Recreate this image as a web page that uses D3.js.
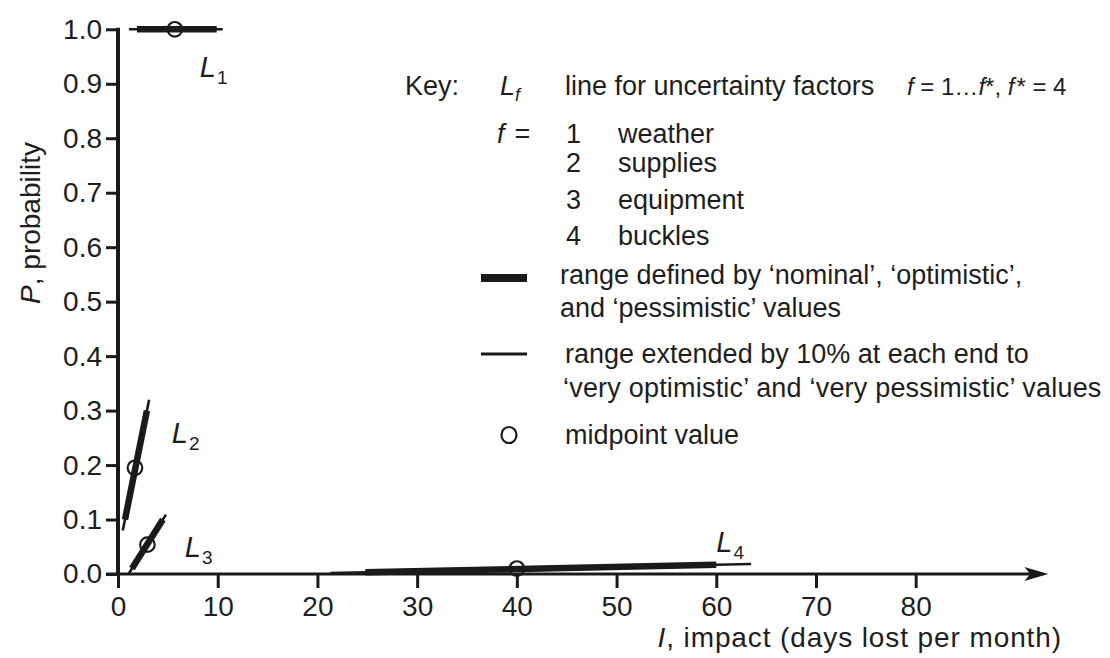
<!DOCTYPE html>
<html>
<head>
<meta charset="utf-8">
<script src="https://cdn.jsdelivr.net/npm/d3@7"></script>
<style>
  html, body { margin: 0; padding: 0; background: #fff; }
  svg { display: block; font-family: "Liberation Sans", Arial, Helvetica, sans-serif; }
  text { fill: #1e1e1e; }
</style>
</head>
<body>
<svg id="chart" width="1110" height="658"></svg>
<script>
// Uncertainty factors f = 1..4
const factors = ["1", "2", "3", "4"];
const factorNames = ["weather", "supplies", "equipment", "buckles"];

// Range from 'optimistic' to 'pessimistic' values (impact I, probability P)
const nomI0 = [1.9, 0.7, 1.4, 24.8];
const nomP0 = [1.0, 0.10, 0.01, 0.003];
const nomI1 = [9.9, 2.9, 4.5, 60.0];
const nomP1 = [1.0, 0.30, 0.10, 0.017];

// Range extended by 10% at each end ('very optimistic' / 'very pessimistic')
const extI0 = [1.1, 0.48, 1.09, 21.3];
const extP0 = [1.0, 0.08, 0.001, 0.0016];
const extI1 = [10.5, 3.12, 4.81, 63.5];
const extP1 = [1.0, 0.32, 0.109, 0.0184];

// Midpoint values
const midI = [5.7, 1.7, 2.95, 40.0];
const midP = [1.0, 0.195, 0.054, 0.01];

// Line label anchors, in data units
const labelI = [8.2, 5.4, 6.7, 60.0];
const labelP = [0.913, 0.240, 0.031, 0.041];

// Axis ticks
const xTicks = [0, 10, 20, 30, 40, 50, 60, 70, 80];
const yTicks = [0, 0.1, 0.2, 0.3, 0.4, 0.5, 0.6, 0.7, 0.8, 0.9, 1.0];
const xAxisEnd = 93.3;

const ink = "#1a1a1a";
const svg = d3.select("#chart");

const x = d3.scaleLinear().domain([0, 80]).range([118, 915.7]);
const y = d3.scaleLinear().domain([0, 1]).range([574, 29.3]);

// ---- axes ----
const yAxis = d3.axisLeft(y).tickValues(yTicks).tickFormat(d3.format(".1f"))
  .tickSize(12).tickPadding(4);
const gy = svg.append("g").attr("transform", `translate(${x(0)},0)`).call(yAxis);
gy.select(".domain").remove();
gy.selectAll(".tick line").attr("stroke", ink).attr("stroke-width", 3);
gy.selectAll(".tick text").attr("font-size", 28).attr("fill", "#1e1e1e")
  .attr("font-family", "Liberation Sans, Arial, sans-serif");

const xAxis = d3.axisBottom(x).tickValues(xTicks).tickFormat(d3.format("d"))
  .tickSize(14).tickPadding(8);
const gx = svg.append("g").attr("transform", `translate(0,${y(0)})`).call(xAxis);
gx.select(".domain").remove();
gx.selectAll(".tick line").attr("stroke", ink).attr("stroke-width", 3);
gx.selectAll(".tick text").attr("font-size", 28).attr("fill", "#1e1e1e")
  .attr("font-family", "Liberation Sans, Arial, sans-serif");

// y axis spine
svg.append("line")
  .attr("x1", x(0)).attr("x2", x(0))
  .attr("y1", y(1) - 1.5).attr("y2", y(0))
  .attr("stroke", ink).attr("stroke-width", 4);

// x axis spine with arrow head
const tipX = x(xAxisEnd), y0 = y(0);
svg.append("line")
  .attr("x1", x(0) - 12).attr("x2", tipX - 10)
  .attr("y1", y0).attr("y2", y0)
  .attr("stroke", ink).attr("stroke-width", 3);
svg.append("path")
  .attr("d", `M${tipX},${y0} L${tipX - 24},${y0 - 7} L${tipX - 18},${y0} L${tipX - 24},${y0 + 7} Z`)
  .attr("fill", ink);

// ---- uncertainty lines ----
const idx = d3.range(factors.length);
const plot = svg.append("g");

plot.selectAll("line.ext").data(idx).join("line")
  .attr("class", "ext")
  .attr("x1", i => x(extI0[i])).attr("y1", i => y(extP0[i]))
  .attr("x2", i => x(extI1[i])).attr("y2", i => y(extP1[i]))
  .attr("stroke", ink).attr("stroke-width", 2.6);

plot.selectAll("line.nom").data(idx).join("line")
  .attr("class", "nom")
  .attr("x1", i => x(nomI0[i])).attr("y1", i => y(nomP0[i]))
  .attr("x2", i => x(nomI1[i])).attr("y2", i => y(nomP1[i]))
  .attr("stroke", ink).attr("stroke-width", 6.5);

plot.selectAll("circle.mid").data(idx).join("circle")
  .attr("class", "mid")
  .attr("cx", i => x(midI[i])).attr("cy", i => y(midP[i]))
  .attr("r", 7.3)
  .attr("fill", "none").attr("stroke", ink).attr("stroke-width", 2.2);

// line labels L1..L4
const lab = plot.selectAll("text.lab").data(idx).join("text")
  .attr("class", "lab")
  .attr("x", i => x(labelI[i])).attr("y", i => y(labelP[i]))
  .attr("font-size", 29);
lab.append("tspan").attr("font-style", "italic").text("L");
lab.append("tspan").attr("font-size", 19).attr("dy", 7).attr("dx", 1).text(i => factors[i]);

// ---- axis titles ----
const yt = svg.append("text")
  .attr("transform", "translate(40,223) rotate(-90)")
  .attr("text-anchor", "middle").attr("font-size", 28);
yt.append("tspan").attr("font-style", "italic").text("P");
yt.append("tspan").text(", probability");

const xt = svg.append("text")
  .attr("x", 1062).attr("y", 647)
  .attr("text-anchor", "end").attr("font-size", 28)
  .attr("letter-spacing", 0.9);
xt.append("tspan").attr("font-style", "italic").text("I");
xt.append("tspan").text(", impact (days lost per month)");

// ---- key ----
const key = svg.append("g").attr("font-size", 27);
key.append("text").attr("x", 405).attr("y", 95).text("Key:");
const lf = key.append("text").attr("x", 500).attr("y", 95);
lf.append("tspan").attr("font-style", "italic").text("L");
lf.append("tspan").attr("font-style", "italic").attr("font-size", 18).attr("dy", 6).text("f");
key.append("text").attr("x", 565).attr("y", 95).text("line for uncertainty factors");
const fs = key.append("text").attr("x", 907).attr("y", 95).attr("font-size", 24);
fs.append("tspan").attr("font-style", "italic").text("f");
fs.append("tspan").text(" = 1…");
fs.append("tspan").attr("font-style", "italic").text("f");
fs.append("tspan").text("*, ");
fs.append("tspan").attr("font-style", "italic").text("f");
fs.append("tspan").attr("dx", 2).text("* = 4");

const feq = key.append("text").attr("x", 497).attr("y", 143);
feq.append("tspan").attr("font-style", "italic").text("f");
feq.append("tspan").attr("dx", 10).text("=");

const rowY = [143, 172, 209, 245];
key.selectAll("text.num").data(idx).join("text")
  .attr("class", "num").attr("x", 566).attr("y", i => rowY[i]).text(i => factors[i]);
key.selectAll("text.name").data(idx).join("text")
  .attr("class", "name").attr("x", 618).attr("y", i => rowY[i]).text(i => factorNames[i]);

// legend symbols
key.append("line").attr("x1", 481).attr("x2", 527).attr("y1", 278).attr("y2", 278)
  .attr("stroke", ink).attr("stroke-width", 8);
key.append("line").attr("x1", 481).attr("x2", 527).attr("y1", 354).attr("y2", 354)
  .attr("stroke", ink).attr("stroke-width", 3);
key.append("ellipse").attr("cx", 509).attr("cy", 435).attr("rx", 7.5).attr("ry", 8)
  .attr("fill", "none").attr("stroke", ink).attr("stroke-width", 2.2);

key.append("text").attr("x", 560).attr("y", 284).text("range defined by ‘nominal’, ‘optimistic’,");
key.append("text").attr("x", 560).attr("y", 317).text("and ‘pessimistic’ values");
key.append("text").attr("x", 565).attr("y", 363).text("range extended by 10% at each end to");
key.append("text").attr("x", 563).attr("y", 397).attr("letter-spacing", 0.2)
  .text("‘very optimistic’ and ‘very pessimistic’ values");
key.append("text").attr("x", 565).attr("y", 444).text("midpoint value");
</script>
</body>
</html>
